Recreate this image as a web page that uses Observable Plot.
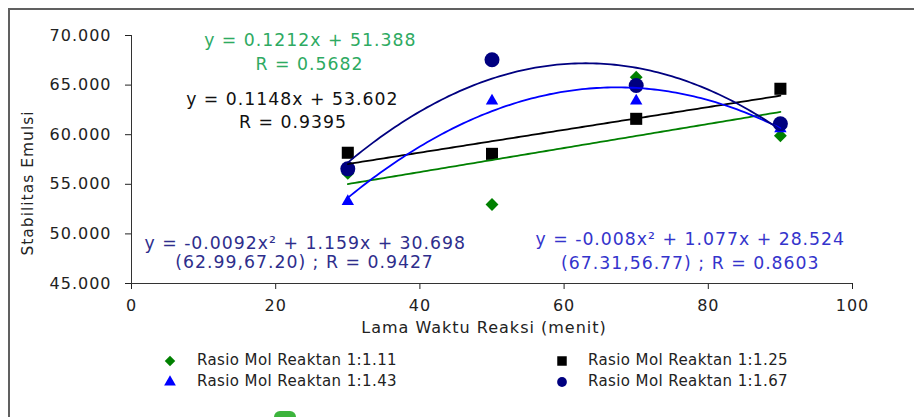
<!DOCTYPE html>
<html>
<head>
<meta charset="utf-8">
<script src="https://cdn.jsdelivr.net/npm/d3@7"></script>
<script src="https://cdn.jsdelivr.net/npm/@observablehq/plot@0.6"></script>
<style>
html, body { margin: 0; padding: 0; background: #fff; }
#wrap { position: relative; width: 914px; height: 417px; overflow: hidden; font-family: "DejaVu Sans", Verdana, sans-serif; }
#frame { position: absolute; left: 8px; top: 8px; width: 940px; height: 440px; border-top: 2px solid #606060; border-left: 2px solid #606060; }
#chart { position: absolute; left: 0; top: 0; }
#chart svg text { letter-spacing: 1px; }
.li { position: absolute; font-size: 15px; letter-spacing: 0.4px; color: #222; white-space: nowrap; line-height: 15px; }
.mk { position: absolute; }
#ytitle { position: absolute; left: -72px; top: 174px; width: 200px; height: 18px; line-height: 18px; text-align: center; font-size: 15.5px; letter-spacing: 1px; color: #222; transform: rotate(-90deg); white-space: nowrap; }
#blob { position: absolute; left: 274px; top: 411px; width: 22px; height: 14px; background: #3cb43c; border-radius: 6px; }
</style>
</head>
<body>
<div id="wrap">
  <div id="frame"></div>
  <div id="chart"></div>
  <div id="ytitle">Stabilitas Emulsi</div>
  <div id="legend"></div>
  <div id="blob"></div>
</div>
<script>
// ---- data ----
const times = [30, 50, 70, 90];
const seriesNames = ["Rasio Mol Reaktan 1:1.11", "Rasio Mol Reaktan 1:1.25", "Rasio Mol Reaktan 1:1.43", "Rasio Mol Reaktan 1:1.67"];
const s111 = [56.1, 52.96, 65.8, 59.9];
const s125 = [58.18, 58.07, 61.6, 64.63];
const s143 = [53.27, 63.4, 63.4, 60.6];
const s167 = [56.56, 67.55, 64.96, 61.1];
const xTicks = [0, 20, 40, 60, 80, 100];
const yTicks = [45, 50, 55, 60, 65, 70];
// trendline coefficients [a, b, c] for a*x^2 + b*x + c, as printed on the chart
const fit111 = [0, 0.1212, 51.388];
const fit125 = [0, 0.1148, 53.602];
const fit143 = [-0.008, 1.077, 28.524];
const fit167 = [-0.0092, 1.159, 30.698];
const eq111 = ["y = 0.1212x + 51.388", "R = 0.5682"];
const eq125 = ["y = 0.1148x + 53.602", "R = 0.9395"];
const eq167 = ["y = -0.0092x² + 1.159x + 30.698", "(62.99,67.20) ; R = 0.9427"];
const eq143 = ["y = -0.008x² + 1.077x + 28.524", "(67.31,56.77) ; R = 0.8603"];

// ---- styling ----
const colors = ["#008000", "#000000", "#0000ff", "#000080"];
const symbols = ["diamond2", "square", "triangle", "circle"];
const sizes = [5.8, 6.8, 4.6, 7.5];
const textColors = ["#2eaa62", "#111111", "#3434cc", "#2e2e8c"];

const seriesVals = [s111, s125, s143, s167];
const fits = [fit111, fit125, fit143, fit167];

const tables = seriesVals.map((vals, i) => times.map((t, j) => ({t, v: vals[j], s: seriesNames[i]})));
const fitLine = (coef) => d3.range(times[0], times[times.length - 1] + 0.001, 0.5)
  .map(x => ({x, y: coef[0] * x * x + coef[1] * x + coef[2]}));

// annotation anchors in data units (layout only)
const annotations = [
  {text: eq111[0], x: 24.8, y: 69.5, c: 0},
  {text: eq111[1], x: 24.7, y: 67.1, c: 0},
  {text: eq125[0], x: 22.3, y: 63.55, c: 1},
  {text: eq125[1], x: 22.4, y: 61.2, c: 1},
  {text: eq167[0], x: 24.1, y: 49.0, c: 3},
  {text: eq167[1], x: 24.0, y: 47.15, c: 3},
  {text: eq143[0], x: 77.5, y: 49.4, c: 2},
  {text: eq143[1], x: 77.5, y: 47.0, c: 2}
];

const marks = [
  Plot.ruleX([0], {stroke: "#333"}),
  Plot.ruleY([45], {stroke: "#333"})
];
tables.forEach((tb, i) => {
  marks.push(Plot.dot(tb, {x: "t", y: "v", symbol: () => symbols[i], r: sizes[i], fill: colors[i], stroke: "none"}));
});
fits.forEach((f, i) => {
  marks.push(Plot.line(fitLine(f), {x: "x", y: "y", stroke: colors[i], strokeWidth: 1.8, curve: "linear"}));
});
marks.push(Plot.text(annotations, {x: "x", y: "y", text: "text", fill: d => textColors[d.c], fontSize: 17.3, textAnchor: "middle"}));
marks.push(Plot.text(["Lama Waktu Reaksi (menit)"], {frameAnchor: "bottom", dy: 49, dx: -8, fontSize: 16, fill: "#222"}));

const chart = Plot.plot({
  width: 914,
  height: 417,
  marginLeft: 131,
  marginRight: 62,
  marginTop: 35,
  marginBottom: 134,
  style: {fontFamily: "DejaVu Sans, Verdana, sans-serif", fontSize: "16px", color: "#222", background: "transparent", overflow: "visible"},
  x: {domain: [0, 100], ticks: xTicks, tickSize: 6, tickPadding: 10, label: null},
  y: {domain: [45, 70], ticks: yTicks, tickFormat: d3.format(".3f"), tickSize: 6, tickPadding: 14, label: null},
  marks
});
document.getElementById("chart").appendChild(chart);

// ---- legend ----
const legend = document.getElementById("legend");
const legPos = [
  {mx: 170, tx: 197, y: 361},
  {mx: 562, tx: 588, y: 361},
  {mx: 170, tx: 197, y: 382},
  {mx: 562, tx: 588, y: 382}
];
const legSymbols = [d3.symbolDiamond2, d3.symbolSquare, d3.symbolTriangle, d3.symbolCircle];
const legSizes = [70, 90, 60, 75];
seriesNames.forEach((name, i) => {
  const p = legPos[i];
  const svg = d3.create("svg").attr("class", "mk").attr("width", 16).attr("height", 16)
    .style("left", (p.mx - 8) + "px").style("top", (p.y - 8) + "px");
  svg.append("path").attr("d", d3.symbol(legSymbols[i], legSizes[i])()).attr("transform", "translate(8,8)").attr("fill", colors[i]);
  legend.appendChild(svg.node());
  const div = document.createElement("div");
  div.className = "li";
  div.textContent = name;
  div.style.left = p.tx + "px";
  div.style.top = (p.y - 8) + "px";
  legend.appendChild(div);
});
</script>
</body>
</html>
